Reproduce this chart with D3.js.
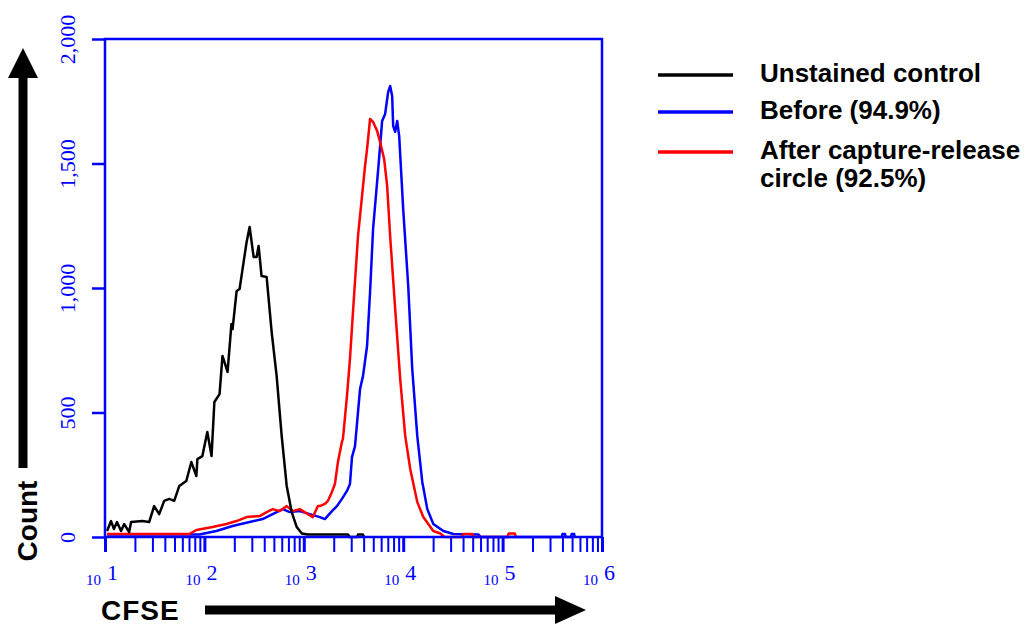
<!DOCTYPE html>
<html>
<head>
<meta charset="utf-8">
<script src="https://cdn.jsdelivr.net/npm/d3@7"></script>
<style>
  body { margin: 0; background: #fff; }
  svg { display: block; }
</style>
</head>
<body>
<svg id="chart" width="1030" height="633"></svg>
<script>
// histogram points: [CFSE intensity, cell count]
const unstained = [
    [10.5, 24], [11.5, 64], [12.3, 32], [13.2, 60], [14.5, 24], [15.6, 52], [17.5, 20], [18.3, 60],
    [23.7, 64], [27.8, 60], [31.2, 124], [35.1, 92], [39.4, 145], [44.3, 153], [49.7, 145], [55.9, 205],
    [65.7, 225], [73.9, 301], [83, 245], [85, 313], [95.4, 325], [107, 422], [118, 325], [126, 542],
    [142, 574], [152, 727], [171, 663], [187, 855], [192, 835], [211, 988], [226, 996], [242, 1076],
    [266, 1185], [285, 1245], [313, 1124], [335, 1124], [351, 1169], [376, 1048], [423, 1044], [475, 823],
    [533, 647], [599, 406], [673, 205], [756, 100], [849, 40], [955, 14], [1100, 10], [2780, 10],
    [2900, 0], [3450, 0], [3510, 10], [3930, 10], [4050, 0]
];
const before = [
    [10.5, 10], [89, 10], [132, 24], [192, 44], [285, 60], [385, 72], [486, 92], [614, 112],
    [722, 100], [911, 104], [1150, 92], [1451, 80], [1630, 72], [1918, 104], [2154, 124], [2419, 153],
    [2718, 185], [2914, 213], [3053, 321], [3275, 365], [3679, 594], [3944, 647], [4329, 767], [4642, 984],
    [4977, 1237], [5465, 1426], [5858, 1570], [6138, 1671], [6580, 1699], [7055, 1787], [7390, 1811], [7743, 1771],
    [7925, 1651], [8303, 1627], [8700, 1671], [9113, 1610], [10000, 1317], [11234, 1008], [12328, 675], [13849, 406],
    [15559, 221], [17478, 112], [20090, 52], [25352, 24], [31992, 12], [57300, 10], [60000, 0],
    [395000, 0], [400000, 12], [425000, 12], [430000, 0], [490000, 0], [495000, 12], [525000, 12], [530000, 0]
];
const after = [
    [10.5, 12], [70.5, 12], [83, 28], [120.5, 40], [166.8, 52], [210.5, 64], [265.6, 80], [359.4, 84],
    [422.9, 100], [486.4, 112], [572.3, 104], [673.6, 124], [774.4, 104], [911.3, 112], [1097.5, 92], [1233, 80],
    [1385, 124], [1451, 124], [1630, 133], [1747, 145], [1918, 181], [2056, 213], [2204, 301], [2419, 382],
    [2476, 394], [2718, 566], [2914, 715], [3125, 904], [3511, 1209], [3853, 1369], [4132, 1490], [4329, 1558],
    [4642, 1679], [4977, 1667], [5465, 1631], [5858, 1586], [6431, 1518], [6893, 1410], [7390, 1209], [8303, 916],
    [9326, 635], [10476, 406], [11768, 273], [13849, 141], [15923, 80], [20090, 24], [23644, 14], [26000, 0],
    [39000, 0], [40400, 12], [49800, 12], [51000, 0], [112000, 0], [115000, 14], [133000, 14], [136000, 0]
];

const seriesData = [before, after, unstained];
const seriesColors = ['#0000ff', '#ff0000', '#000000'];

const legendLabels = [['Unstained control'], ['Before (94.9%)'], ['After capture-release', 'circle (92.5%)']];
const legendColors = ['#000000', '#0000ff', '#ff0000'];

const countTicks = [0, 500, 1000, 1500, 2000];
const decadeExponents = [1, 2, 3, 4, 5, 6];

const axisBlue = '#0000ff';
const serif = '"Liberation Serif", "DejaVu Serif", serif';
const sans = '"Liberation Sans", Arial, sans-serif';

const svg = d3.select('#chart');

const x = d3.scaleLog()
    .domain([10, 1e6])
    .range([105, 602]);
const y = d3.scaleLinear()
    .domain([0, 2000])
    .range([537, 39]);

// histogram lines
const line = d3.line()
    .x(d => x(d[0]))
    .y(d => y(d[1]));

svg.append('g')
    .selectAll('path')
    .data(seriesData)
    .join('path')
    .attr('d', d => line(d))
    .attr('fill', 'none')
    .attr('stroke', (d, i) => seriesColors[i])
    .attr('stroke-width', 2.5)
    .attr('stroke-linejoin', 'round');

// x axis: log ticks 1..9 per decade
const xTickValues = [];
decadeExponents.slice(0, -1).forEach(e => {
    for (let k = 1; k < 10; k++) xTickValues.push(k * Math.pow(10, e));
});
xTickValues.push(1e6);

const xAxis = svg.append('g')
    .attr('transform', 'translate(0,' + y(0) + ')')
    .call(d3.axisBottom(x).tickValues(xTickValues).tickSize(15).tickSizeOuter(0).tickFormat(''));
xAxis.select('.domain').remove();
xAxis.selectAll('.tick line')
    .attr('stroke', axisBlue)
    .attr('stroke-width', d => (Math.log10(d) % 1 === 0 ? 3 : 2));

// y axis
const yAxis = svg.append('g')
    .attr('transform', 'translate(' + x(10) + ',0)')
    .call(d3.axisLeft(y).tickValues(countTicks).tickSize(13).tickSizeOuter(0).tickFormat(d3.format(',')));
yAxis.select('.domain').remove();
yAxis.selectAll('.tick line')
    .attr('stroke', axisBlue)
    .attr('stroke-width', 2.5);
yAxis.selectAll('.tick text')
    .attr('x', 0)
    .attr('y', -30)
    .attr('dy', 0)
    .attr('transform', 'rotate(-90)')
    .attr('text-anchor', 'middle')
    .attr('fill', axisBlue)
    .style('font-family', serif)
    .style('font-size', '22px');

// frame
svg.append('rect')
    .attr('x', x(10))
    .attr('y', y(2000))
    .attr('width', x(1e6) - x(10))
    .attr('height', y(0) - y(2000))
    .attr('fill', 'none')
    .attr('stroke', axisBlue)
    .attr('stroke-width', 2.5);

// decade labels: small "10" with larger exponent
const decadeLabels = svg.append('g')
    .selectAll('g')
    .data(decadeExponents)
    .join('g')
    .attr('transform', e => 'translate(' + x(Math.pow(10, e)) + ',0)')
    .attr('fill', axisBlue)
    .style('font-family', serif);
decadeLabels.append('text')
    .attr('x', -4)
    .attr('y', 585)
    .attr('text-anchor', 'end')
    .style('font-size', '15px')
    .text('10');
decadeLabels.append('text')
    .attr('x', 2)
    .attr('y', 580)
    .attr('text-anchor', 'start')
    .style('font-size', '22px')
    .text(e => e);

// axis titles with arrows
svg.append('text')
    .attr('transform', 'translate(37,521) rotate(-90)')
    .attr('text-anchor', 'middle')
    .style('font-family', sans)
    .style('font-weight', 'bold')
    .style('font-size', '28px')
    .text('Count');

svg.append('path')
    .attr('d', 'M18.5,468 L18.5,78 L8,78 L23,48 L38,78 L27.5,78 L27.5,468 Z')
    .attr('fill', '#000');

svg.append('text')
    .attr('x', 101)
    .attr('y', 620)
    .style('font-family', sans)
    .style('font-weight', 'bold')
    .style('font-size', '28px')
    .style('letter-spacing', '1px')
    .text('CFSE');

svg.append('path')
    .attr('d', 'M205,605.5 L555,605.5 L555,596 L586,610 L555,624 L555,614.5 L205,614.5 Z')
    .attr('fill', '#000');

// legend
const legendY = [75, 112, 152];
const legend = svg.append('g')
    .selectAll('g')
    .data(legendLabels)
    .join('g')
    .attr('transform', (d, i) => 'translate(0,' + legendY[i] + ')');
legend.append('line')
    .attr('x1', 658)
    .attr('x2', 733)
    .attr('stroke', (d, i) => legendColors[i])
    .attr('stroke-width', 3.5);
legend.append('text')
    .attr('x', 760)
    .attr('y', 7)
    .style('font-family', sans)
    .style('font-weight', 'bold')
    .style('font-size', '26px')
    .selectAll('tspan')
    .data(d => d)
    .join('tspan')
    .attr('x', 760)
    .attr('dy', (d, i) => (i === 0 ? 0 : 28))
    .text(d => d);
</script>
</body>
</html>
